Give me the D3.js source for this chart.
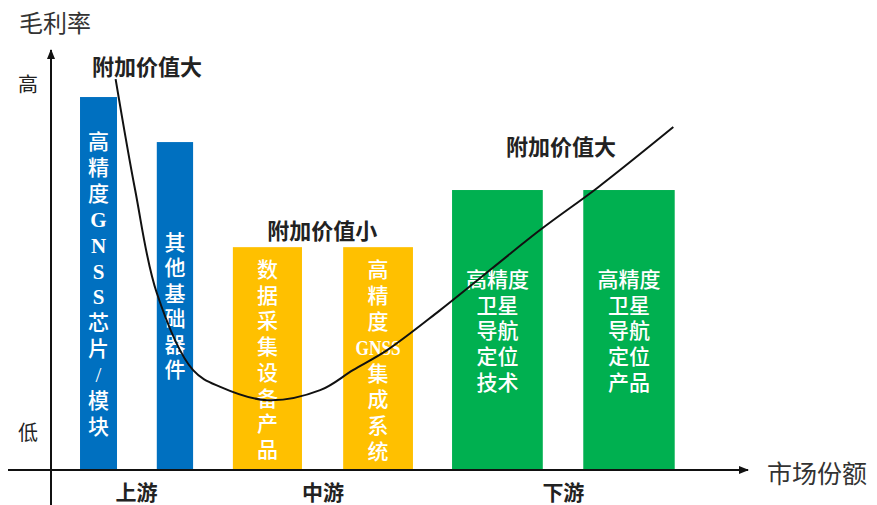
<!DOCTYPE html>
<html>
<head>
<meta charset="utf-8">
<script src="https://cdn.jsdelivr.net/npm/d3@7"></script>
<style>
  body { margin: 0; background: #fff; }
  svg { display: block; font-family: "Noto Sans CJK SC", sans-serif; }
  .lbl { font-family: "Liberation Serif", "Noto Sans CJK SC", serif; }
  .seg { font-family: "Liberation Sans", "Noto Sans CJK SC", sans-serif; }
</style>
</head>
<body>
<div id="chart"></div>
<script>
// données (unités arbitraires : part de marché 0-100, marge 0-100)
const categories = ["高精度GNSS芯片/模块", "其他基础器件", "数据采集设备产品", "高精度GNSS集成系统", "高精度卫星导航定位技术", "高精度卫星导航定位产品"];
const labelLines = [
  ["高", "精", "度", "G", "N", "S", "S", "芯", "片", "/", "模", "块"],
  ["其", "他", "基", "础", "器", "件"],
  ["数", "据", "采", "集", "设", "备", "产", "品"],
  ["高", "精", "度", "GNSS", "集", "成", "系", "统"],
  ["高精度", "卫星", "导航", "定位", "技术"],
  ["高精度", "卫星", "导航", "定位", "产品"]
];
const segmentOf = [0, 0, 1, 1, 2, 2];
const segments = ["上游", "中游", "下游"];
const shareStart = [4.3, 15.3, 26.2, 42.0, 57.6, 76.4];
const shareEnd = [9.6, 20.5, 36.1, 52.0, 70.6, 89.5];
const margin = [89.2, 78.4, 53.2, 53.2, 66.9, 66.9];

// courbe du sourire
const curveX = [9.4, 12.2, 15.3, 20.5, 24.4, 31.1, 38.7, 43.4, 48.3, 55.9, 70.2, 78.4, 89.3];
const curveY = [93.5, 66.9, 42.2, 23.7, 19.7, 16.5, 18.9, 23.7, 28.5, 38.1, 57.3, 67.4, 82.0];

const annotations = ["附加价值大", "附加价值小", "附加价值大"];
const annotX = [13.9, 39.0, 73.2];
const annotY = [97.0, 57.6, 77.6];

const colors = ["#0070C0", "#FFC000", "#00B050"];

const W = 877, H = 505;
const svg = d3.select("#chart").append("svg").attr("width", W).attr("height", H);

const x = d3.scaleLinear().domain([0, 100]).range([50, 748]);
const y = d3.scaleLinear().domain([0, 100]).range([469, 52]);

// barres
const bars = categories.map((c, i) => ({ name: c, x0: shareStart[i], x1: shareEnd[i], v: margin[i], seg: segmentOf[i], lines: labelLines[i] }));

svg.selectAll("rect.bar")
  .data(bars)
  .enter()
  .append("rect")
  .attr("class", "bar")
  .attr("x", d => x(d.x0))
  .attr("width", d => x(d.x1) - x(d.x0))
  .attr("y", d => y(d.v))
  .attr("height", d => y(0) - y(d.v))
  .attr("fill", d => colors[d.seg]);

// textes dans les barres, une ligne par <text>
const labelTop = [142, 243, 270, 270, 280, 280];
const lineH = [25.9, 25.4, 25.7, 26, 25.7, 25.7];
bars.forEach((d, i) => {
  const cx = (x(d.x0) + x(d.x1)) / 2;
  const g = svg.append("g").attr("class", "lbl");
  d.lines.forEach((l, k) => {
    const t = g.append("text")
      .attr("x", cx)
      .attr("y", labelTop[i] + k * lineH[i] + 7)
      .attr("text-anchor", "middle")
      .attr("fill", "#fff")
      .attr("font-size", 21)
      .attr("font-weight", 500)
      .text(l);
    if (/^[A-Z]$/.test(l)) t.attr("font-weight", "bold");
    if (l === "GNSS") t.attr("font-weight", "bold").attr("textLength", 45).attr("lengthAdjust", "spacingAndGlyphs");
  });
});

// courbe
const pts = curveX.map((v, i) => [x(v), y(curveY[i])]);
svg.append("path")
  .attr("d", d3.line().curve(d3.curveCatmullRom.alpha(0.5))(pts))
  .attr("fill", "none")
  .attr("stroke", "#111")
  .attr("stroke-width", 2);

// axes
svg.append("defs").append("marker")
  .attr("id", "arr")
  .attr("viewBox", "0 0 10 10")
  .attr("refX", 9).attr("refY", 5)
  .attr("markerWidth", 5).attr("markerHeight", 5)
  .attr("orient", "auto")
  .append("path").attr("d", "M0,1 L10,5 L0,9 z").attr("fill", "#111");

svg.append("line")
  .attr("x1", 8).attr("x2", x(100))
  .attr("y1", y(0) + 1).attr("y2", y(0) + 1)
  .attr("stroke", "#111").attr("stroke-width", 2)
  .attr("marker-end", "url(#arr)");
svg.append("line")
  .attr("x1", x(0) + 1).attr("x2", x(0) + 1)
  .attr("y1", H).attr("y2", y(100) - 2)
  .attr("stroke", "#111").attr("stroke-width", 2)
  .attr("marker-end", "url(#arr)");

// titres des axes
svg.append("text").attr("x", 19).attr("y", 21)
  .attr("dominant-baseline", "central")
  .attr("font-size", 24).attr("fill", "#333").text("毛利率");
svg.append("text").attr("x", 28).attr("y", 83)
  .attr("text-anchor", "middle").attr("dominant-baseline", "central")
  .attr("font-size", 20).attr("fill", "#222").text("高");
svg.append("text").attr("x", 28).attr("y", 431)
  .attr("text-anchor", "middle").attr("dominant-baseline", "central")
  .attr("font-size", 20).attr("fill", "#222").text("低");
svg.append("text").attr("x", 767).attr("y", 472)
  .attr("dominant-baseline", "central")
  .attr("font-size", 25).attr("fill", "#333").text("市场份额");

// segments amont / milieu / aval
segments.forEach((s, k) => {
  const b = bars.filter(d => d.seg === k);
  const cx = (x(d3.min(b, d => d.x0)) + x(d3.max(b, d => d.x1))) / 2;
  svg.append("text").attr("class", "seg").attr("x", cx).attr("y", 499.5)
    .attr("text-anchor", "middle")
    .attr("font-size", 21).attr("font-weight", "bold").attr("fill", "#222").text(s);
});

// annotations
annotations.forEach((a, i) => {
  svg.append("text").attr("x", x(annotX[i])).attr("y", y(annotY[i]))
    .attr("text-anchor", "middle").attr("dominant-baseline", "central")
    .attr("font-size", 22).attr("font-weight", "bold").attr("fill", "#222").text(a);
});
</script>
</body>
</html>
